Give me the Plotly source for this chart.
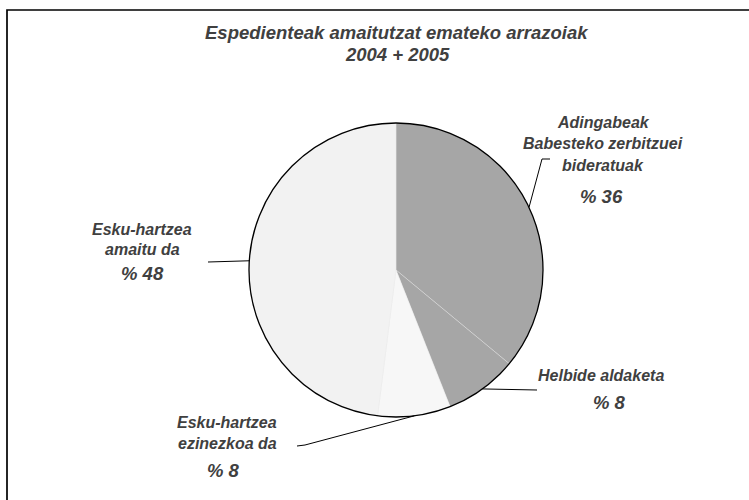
import math
import plotly.graph_objects as go

# ---- data ----
categories = ["Adingabeak Babesteko zerbitzuei bideratuak", "Helbide aldaketa",
              "Esku-hartzea ezinezkoa da", "Esku-hartzea amaitu da"]
values = [36, 8, 8, 48]
label_lines = [["Adingabeak", "Babesteko zerbitzuei", "bideratuak"],
               ["Helbide aldaketa"],
               ["Esku-hartzea", "ezinezkoa da"],
               ["Esku-hartzea", "amaitu da"]]
pct_labels = ["% 36", "% 8", "% 8", "% 48"]
title_lines = ["Espedienteak amaitutzat emateko arrazoiak", "2004 + 2005"]

colors = ["#a6a6a6", "#a6a6a6", "#f7f7f7", "#f2f2f2"]

W, H = 749, 500
CX, CY, R = 396, 270, 147
TXT = "#404040"
FONT = "Liberation Sans, Arial, sans-serif"


def px(x):
    return x / W


def py(y):
    return 1 - y / H


fig = go.Figure()
fig.add_trace(go.Pie(
    labels=categories, values=values, sort=False, direction="clockwise",
    rotation=0, textinfo="none", hoverinfo="label+percent",
    marker=dict(colors=colors, line=dict(color="#e6e6e6", width=0.4)),
    domain=dict(x=[px(CX - R), px(CX + R)], y=[py(CY + R), py(CY - R)]),
    showlegend=False,
))

shapes = []
# frame (only top and left edges visible in the reference)
shapes.append(dict(type="rect", xref="paper", yref="paper",
                   x0=px(7), x1=px(800), y0=py(560), y1=py(10),
                   line=dict(color="black", width=1.7)))
# outer circle
shapes.append(dict(type="circle", xref="paper", yref="paper",
                   x0=px(CX - R), x1=px(CX + R), y0=py(CY + R), y1=py(CY - R),
                   line=dict(color="black", width=1.3), layer="above"))

# leader lines: start at mid-angle of each slice on the rim
total = sum(values)
cum = 0
mids = []
for v in values:
    mids.append((cum + v / 2) / total * 2 * math.pi)
    cum += v
leader_paths = [
    [(542, 159), (550, 159)],
    [(537, 390)],
    [(305, 445), (297, 446)],
    [(208, 262)],
]
for ang, rest in zip(mids, leader_paths):
    sx = CX + R * math.sin(ang)
    sy = CY - R * math.cos(ang)
    pts = [(sx, sy)] + rest
    for (x0, y0), (x1, y1) in zip(pts[:-1], pts[1:]):
        shapes.append(dict(type="line", xref="paper", yref="paper",
                           x0=px(x0), y0=py(y0), x1=px(x1), y1=py(y1),
                           line=dict(color="black", width=1)))

annotations = []


def add_text(text, x, y, size):
    annotations.append(dict(
        text="<b><i>" + text + "</i></b>", x=px(x), y=py(y), xref="paper", yref="paper",
        xanchor="center", yanchor="middle", showarrow=False,
        font=dict(family=FONT, size=size, color=TXT)))


add_text(title_lines[0], 397, 32, 18.5)
add_text(title_lines[1], 397, 55, 18.5)

label_pos = [
    (603, [122, 143, 165], (601, 196)),
    (601, [375], (609, 402)),
    (227, [422, 443], (224, 470)),
    (142, [230, 249], (142, 273)),
]
for lines, pct, (lx, ys, (pxx, pyy)) in zip(label_lines, pct_labels, label_pos):
    for t, yy in zip(lines, ys):
        add_text(t, lx, yy, 16)
    add_text(pct, pxx, pyy, 18.5)

fig.update_layout(
    width=W, height=H, margin=dict(l=0, r=0, t=0, b=0),
    paper_bgcolor="white", plot_bgcolor="white",
    shapes=shapes, annotations=annotations,
)
fig.write_html("out.html", config={"displayModeBar": False},
               post_script="document.body.style.margin='0';")
